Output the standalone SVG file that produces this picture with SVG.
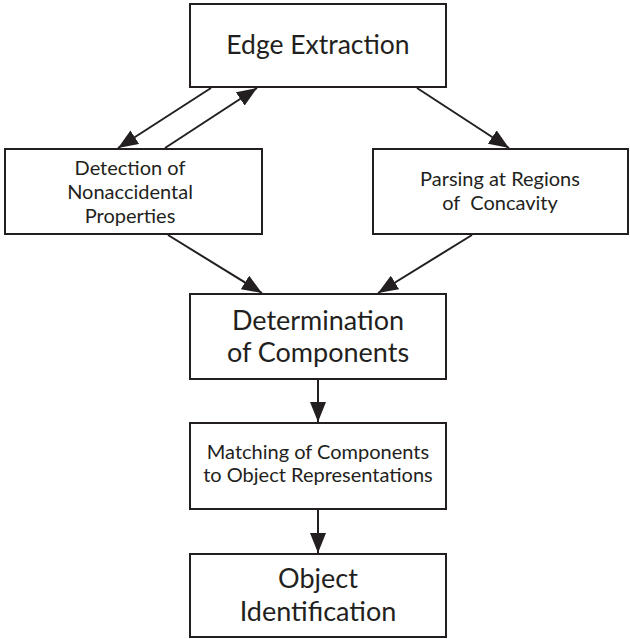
<svg xmlns="http://www.w3.org/2000/svg" width="630" height="639" viewBox="0 0 630 639">
  <defs>
    <marker id="arrow" viewBox="0 0 20 16" refX="20" refY="8" markerWidth="20" markerHeight="16" markerUnits="userSpaceOnUse" orient="auto">
      <path d="M0,0 L20,8 L0,16 Z" fill="#231f20"/>
    </marker>
    <style>
      .box { fill: #ffffff; stroke: #231f20; stroke-width: 2; }
      .mid { font-family: Lato, "Open Sans", sans-serif; font-size: 27px; fill: #231f20; text-anchor: middle; }
      .small { font-family: Lato, "Open Sans", sans-serif; font-size: 20px; fill: #231f20; text-anchor: middle; white-space: pre; }
      .edge { fill: none; stroke: #231f20; stroke-width: 2; marker-end: url(#arrow); }
    </style>
  </defs>
  <rect width="630" height="639" fill="#ffffff"/>

  <g id="connectors">
    <line class="edge" x1="211" y1="88" x2="118" y2="148"/>
    <line class="edge" x1="165" y1="148" x2="257" y2="88"/>
    <line class="edge" x1="417" y1="88" x2="509" y2="148"/>
    <line class="edge" x1="168" y1="235" x2="262" y2="293"/>
    <line class="edge" x1="472" y1="235" x2="378" y2="293"/>
    <line class="edge" x1="318" y1="379" x2="318" y2="422"/>
    <line class="edge" x1="318" y1="509" x2="318" y2="553"/>
  </g>

  <g id="edge-extraction">
    <rect class="box" x="190" y="4" width="256" height="83"/>
    <text class="mid" x="318" y="54" style="font-size:26.5px">Edge Extraction</text>
  </g>

  <g id="nonaccidental">
    <rect class="box" x="5" y="149" width="257" height="85"/>
    <text class="small" x="130" y="175">Detection of</text>
    <text class="small" x="130" y="199">Nonaccidental</text>
    <text class="small" x="130" y="223">Properties</text>
  </g>

  <g id="parsing">
    <rect class="box" x="373" y="149" width="255" height="85"/>
    <text class="small" x="500" y="186">Parsing at Regions</text>
    <text class="small" x="500" y="210">of  Concavity</text>
  </g>

  <g id="components">
    <rect class="box" x="190" y="294" width="256" height="85"/>
    <text class="mid" x="318" y="330">Determination</text>
    <text class="mid" x="318" y="362">of Components</text>
  </g>

  <g id="matching">
    <rect class="box" x="190" y="423" width="256" height="86"/>
    <text class="small" x="318" y="459">Matching of Components</text>
    <text class="small" x="318" y="482">to Object Representations</text>
  </g>

  <g id="identification">
    <rect class="box" x="190" y="554" width="256" height="83"/>
    <text class="mid" x="318" y="588">Object</text>
    <text class="mid" x="318" y="621">Identification</text>
  </g>
</svg>
